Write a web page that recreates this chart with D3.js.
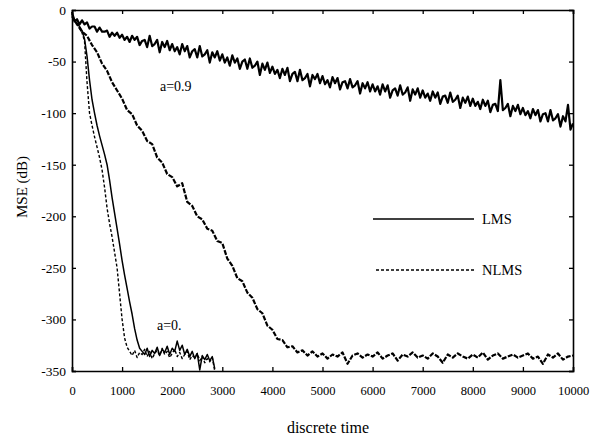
<!DOCTYPE html>
<html>
<head>
<meta charset="utf-8">
<script src="https://cdn.jsdelivr.net/npm/d3@7"></script>
<style>
  body { margin: 0; background: #fff; }
  svg text { font-family: "Liberation Serif", "Times New Roman", "DejaVu Serif", serif; fill: #000; }
</style>
</head>
<body>
<div id="chart"></div>
<script>
// x ticks and y ticks
const xTicks = [0, 1000, 2000, 3000, 4000, 5000, 6000, 7000, 8000, 9000, 10000];
const yTicks = [0, -50, -100, -150, -200, -250, -300, -350];

// LMS, a=0.9, one value every 50 samples from 0 to 10000
const lmsA09Step = 50;
const lmsA09 = [
  -2, -11, -9, -14, -10, -14, -12, -18, -16, -16,
  -21, -17, -21, -21, -20, -26, -22, -25, -22, -27,
  -24, -29, -26, -31, -25, -29, -26, -34, -30, -29,
  -36, -25, -35, -33, -29, -41, -31, -36, -30, -39,
  -33, -40, -36, -43, -33, -40, -35, -46, -40, -38,
  -46, -35, -45, -43, -39, -51, -41, -46, -40, -49,
  -43, -51, -46, -54, -44, -51, -47, -57, -50, -48,
  -57, -47, -56, -54, -50, -63, -52, -58, -51, -61,
  -55, -62, -58, -66, -57, -63, -56, -69, -62, -60,
  -69, -58, -68, -66, -62, -74, -63, -67, -62, -71,
  -64, -72, -68, -75, -65, -71, -66, -77, -70, -69,
  -76, -67, -75, -73, -69, -81, -71, -76, -70, -79,
  -72, -79, -74, -82, -72, -79, -73, -85, -78, -76,
  -83, -73, -82, -80, -75, -88, -77, -82, -76, -85,
  -78, -85, -81, -88, -79, -85, -80, -91, -84, -83,
  -90, -80, -89, -87, -83, -95, -85, -90, -84, -93,
  -86, -93, -89, -96, -87, -93, -88, -99, -92, -91,
  -98, -68, -97, -95, -91, -103, -93, -98, -92, -101,
  -95, -102, -98, -105, -96, -102, -97, -108, -101, -100,
  -108, -97, -107, -105, -101, -113, -103, -108, -92, -116,
  -110
];

// NLMS, a=0.9, one value every 100 samples from 0 to 10000
const nlmsA09Step = 100;
const nlmsA09 = [
  -6, -14, -21, -25, -34, -41, -52, -59, -70, -78,
  -86, -97, -101, -112, -117, -127, -130, -143, -148, -159,
  -162, -171, -168, -186, -190, -200, -203, -212, -214, -224,
  -226, -241, -248, -260, -263, -274, -279, -290, -294, -306,
  -310, -319, -320, -327, -326, -332, -330, -335, -331, -336,
  -333, -338, -334, -336, -332, -343, -335, -333, -337, -334,
  -336, -332, -338, -335, -333, -340, -334, -336, -332, -337,
  -335, -338, -333, -336, -342, -334, -337, -333, -336, -338,
  -334, -337, -332, -339, -335, -333, -338, -336, -334, -337,
  -335, -333, -338, -336, -343, -334, -337, -333, -339, -336,
  -335
];

// LMS, a=0, one value every 50 samples from 0 to 2850
const lmsA0Step = 50;
const lmsA0 = [
  -4, -10, -13, -16, -20, -28, -45, -68, -87, -100,
  -112, -122, -131, -140, -150, -165, -182, -197, -212, -227,
  -243, -257, -270, -283, -295, -309, -320, -328, -331,
  -334, -328, -336, -330, -333, -327, -335, -329, -332, -326,
  -334, -328, -331, -321, -330, -325, -334, -329, -336, -331,
  -338, -333, -349, -335, -339, -334, -340, -336, -348
];

// NLMS, a=0, one value every 50 samples from 0 to 2850
const nlmsA0Step = 50;
const nlmsA0 = [
  -4, -9, -13, -17, -22, -30, -70, -100, -112, -123,
  -133, -143, -155, -172, -192, -207, -220, -235, -250, -275,
  -300, -318, -327, -331,
  -335, -330, -337, -332, -334, -329, -336, -331, -338, -333,
  -330, -335, -328, -334, -331, -337, -333, -329, -336, -332,
  -338, -334, -331, -339, -335, -337, -333, -340, -336, -342,
  -338, -341, -337, -350
];

const series = [
  { values: lmsA09, step: lmsA09Step, dash: null, width: 2.2 },
  { values: nlmsA09, step: nlmsA09Step, dash: "5,1.5", width: 2.2 },
  { values: lmsA0, step: lmsA0Step, dash: null, width: 1.5 },
  { values: nlmsA0, step: nlmsA0Step, dash: "3,2", width: 1.4 }
];

let svg = d3.select("#chart")
    .append("svg")
    .attr("width", 600)
    .attr("height", 440);
let margin = {top: 10, right: 27, bottom: 69, left: 72};
let width = +svg.attr("width") - margin.left - margin.right;
let height = +svg.attr("height") - margin.top - margin.bottom;

let x = d3.scaleLinear().domain([0, 10000]).range([0, width]);
let y = d3.scaleLinear().domain([-350, 0]).range([height, 0]);

let g = svg.append("g")
    .attr("transform", "translate(" + margin.left + "," + margin.top + ")");

// curves
let line = d3.line()
    .x(d => x(d[0]))
    .y(d => y(d[1]));

series.forEach(s => {
    let pts = s.values.map((v, i) => [i * s.step, v]);
    g.append("path")
        .datum(pts)
        .attr("fill", "none")
        .attr("stroke", "#000")
        .attr("stroke-width", s.width)
        .attr("stroke-linejoin", "round")
        .attr("stroke-dasharray", s.dash)
        .attr("d", line);
});

// axes, ticks pointing inward on all four sides
let fmt = d => d3.format("d")(d).replace("\u2212", "-");

let axBottom = g.append("g")
    .attr("transform", "translate(0," + height + ")")
    .call(d3.axisBottom(x).tickValues(xTicks).tickSize(-4).tickPadding(15).tickFormat(fmt));
let axLeft = g.append("g")
    .call(d3.axisLeft(y).tickValues(yTicks).tickSize(-4).tickPadding(6).tickFormat(fmt));
let axTop = g.append("g")
    .call(d3.axisTop(x).tickValues(xTicks).tickSize(-4).tickFormat(""));
let axRight = g.append("g")
    .attr("transform", "translate(" + width + ",0)")
    .call(d3.axisRight(y).tickValues(yTicks).tickSize(-4).tickFormat(""));

[axBottom, axLeft, axTop, axRight].forEach(a => {
    a.select(".domain").attr("stroke", "#000").attr("stroke-width", 1.6);
    a.selectAll(".tick line").attr("stroke", "#000").attr("stroke-width", 1.3);
});
axBottom.selectAll("text").attr("font-size", 12.5);
axLeft.selectAll("text").attr("font-size", 13.5);

// axis titles
svg.append("text")
    .attr("x", 328)
    .attr("y", 433)
    .attr("text-anchor", "middle")
    .attr("font-size", 16)
    .text("discrete time");

svg.append("text")
    .attr("transform", "translate(27,187) rotate(-90)")
    .attr("text-anchor", "middle")
    .attr("font-size", 15)
    .text("MSE (dB)");

// annotations
svg.append("text")
    .attr("x", 160)
    .attr("y", 91)
    .attr("font-size", 14)
    .text("a=0.9");
svg.append("text")
    .attr("x", 157)
    .attr("y", 330)
    .attr("font-size", 14)
    .text("a=0.");

// legend
let legend = svg.append("g");
legend.append("line")
    .attr("x1", 373).attr("x2", 474)
    .attr("y1", 219).attr("y2", 219)
    .attr("stroke", "#000").attr("stroke-width", 1.4);
legend.append("text")
    .attr("x", 482).attr("y", 224)
    .attr("font-size", 14.5)
    .text("LMS");
legend.append("line")
    .attr("x1", 376).attr("x2", 474)
    .attr("y1", 270).attr("y2", 270)
    .attr("stroke", "#000").attr("stroke-width", 1.4)
    .attr("stroke-dasharray", "3,2");
legend.append("text")
    .attr("x", 482).attr("y", 275)
    .attr("font-size", 14.5)
    .text("NLMS");
</script>
</body>
</html>
